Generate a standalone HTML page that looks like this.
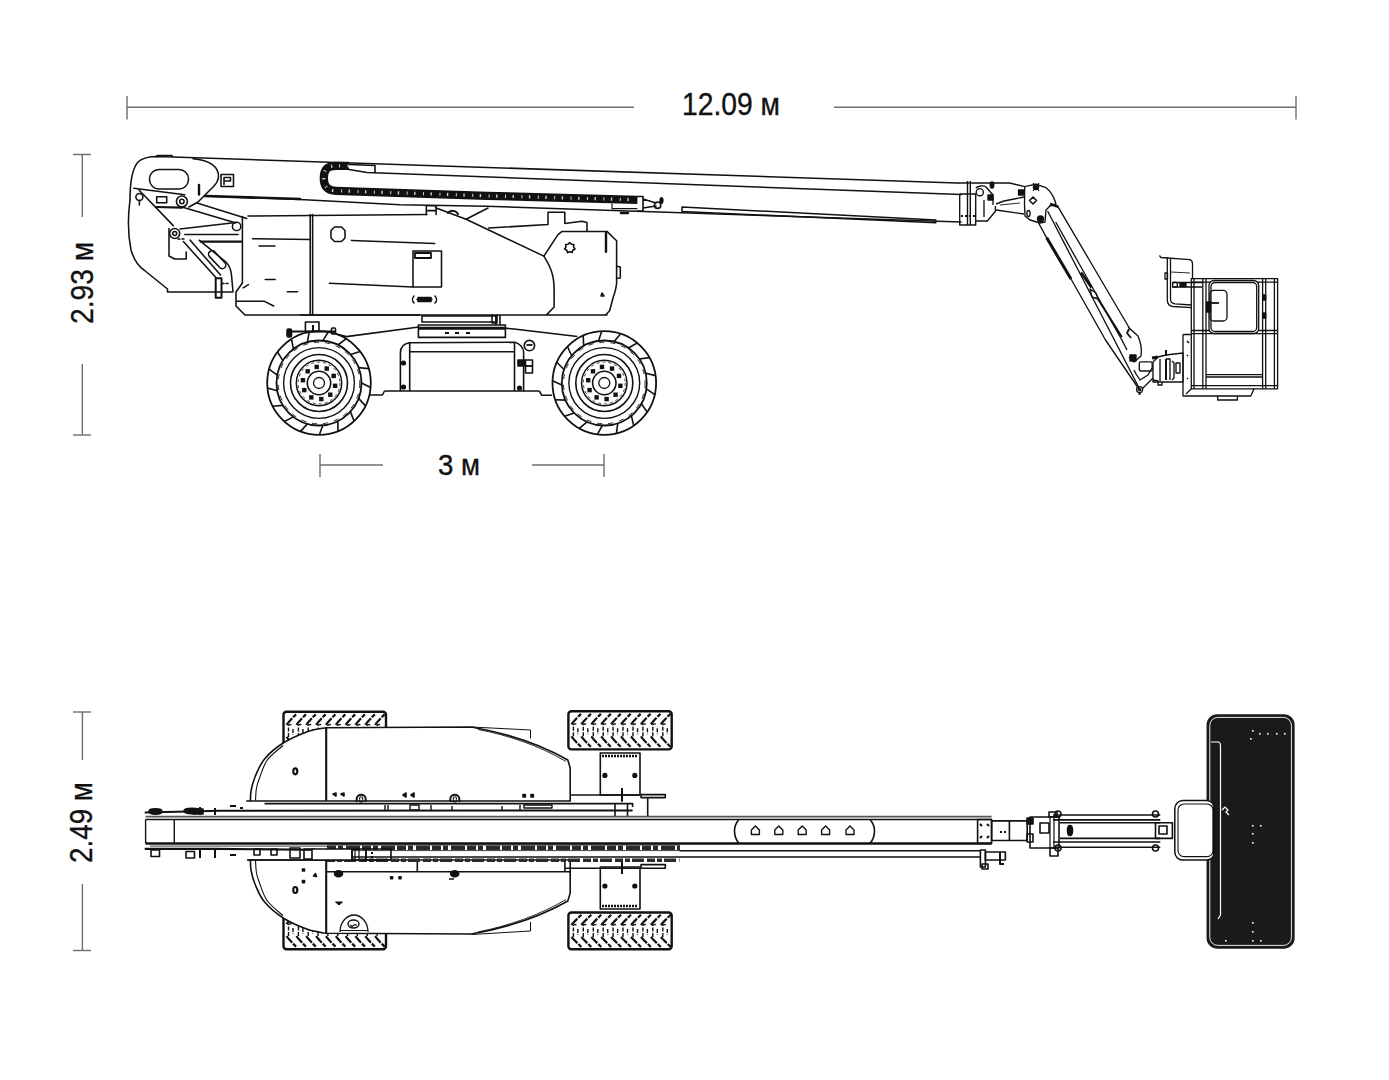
<!DOCTYPE html>
<html><head><meta charset="utf-8"><style>
html,body{margin:0;padding:0;background:#fff;}
svg{display:block;}
</style></head><body>
<svg width="1389" height="1080" viewBox="0 0 1389 1080">
<rect width="1389" height="1080" fill="#fff"/>
<g stroke="#6e6e6e" stroke-width="1.4" fill="none">
<line x1="127" y1="107.2" x2="634" y2="107.2"/><line x1="834" y1="107.2" x2="1296" y2="107.2"/>
<line x1="127" y1="96" x2="127" y2="119.5"/><line x1="1296" y1="96" x2="1296" y2="119.5"/>
<line x1="82.3" y1="154.5" x2="82.3" y2="217"/><line x1="82.3" y1="364" x2="82.3" y2="435"/>
<line x1="73" y1="154.5" x2="91" y2="154.5"/><line x1="73" y1="435" x2="91" y2="435"/>
<line x1="82.4" y1="712" x2="82.4" y2="760"/><line x1="82.4" y1="884" x2="82.4" y2="950.5"/>
<line x1="73" y1="712" x2="91" y2="712"/><line x1="73" y1="950.5" x2="91" y2="950.5"/>
<line x1="320" y1="465" x2="383" y2="465"/><line x1="532" y1="465" x2="604" y2="465"/>
<line x1="320" y1="454" x2="320" y2="477"/><line x1="604" y1="454" x2="604" y2="477"/>
</g>
<text x="682" y="115" font-size="32" font-family="Liberation Sans, sans-serif" fill="#111" stroke="#111" stroke-width="0.35" textLength="98" lengthAdjust="spacingAndGlyphs">12.09 м</text>
<text x="438" y="475" font-size="30" font-family="Liberation Sans, sans-serif" fill="#111" stroke="#111" stroke-width="0.35" textLength="42" lengthAdjust="spacingAndGlyphs">3 м</text>
<text transform="translate(93,324) rotate(-90)" font-size="31" font-family="Liberation Sans, sans-serif" fill="#111" stroke="#111" stroke-width="0.35" textLength="82" lengthAdjust="spacingAndGlyphs">2.93 м</text>
<text transform="translate(92,863) rotate(-90)" font-size="31" font-family="Liberation Sans, sans-serif" fill="#111" stroke="#111" stroke-width="0.35" textLength="81" lengthAdjust="spacingAndGlyphs">2.49 м</text>
<g stroke="#111" fill="none">
<circle cx="319" cy="383" r="51.8" stroke-width="1.8"/>
<circle cx="319" cy="383" r="42.5" stroke-width="1.8"/>
<circle cx="319" cy="383" r="40.8" stroke-width="0.9" stroke-dasharray="5 6"/>
<circle cx="319" cy="383" r="35.4" stroke-width="1.4"/>
<circle cx="319" cy="383" r="28.5" stroke-width="1.6"/>
<circle cx="319" cy="383" r="22.7" stroke-width="1.5"/>
<circle cx="319" cy="383" r="20.9" stroke-width="0.8" stroke-dasharray="3 3"/>
<circle cx="319" cy="383" r="11.7" stroke-width="1.6"/>
<circle cx="319" cy="383" r="5.5" stroke-width="1.3"/>
<line x1="361.5" y1="383.0" x2="370.6" y2="387.5" stroke-width="1.6"/>
<line x1="358.6" y1="398.4" x2="365.5" y2="405.9" stroke-width="1.6"/>
<line x1="350.4" y1="411.6" x2="354.1" y2="421.1" stroke-width="1.6"/>
<line x1="337.9" y1="421.0" x2="338.0" y2="431.2" stroke-width="1.6"/>
<line x1="322.9" y1="425.3" x2="319.3" y2="434.8" stroke-width="1.6"/>
<line x1="307.4" y1="423.9" x2="300.5" y2="431.4" stroke-width="1.6"/>
<line x1="293.4" y1="416.9" x2="284.3" y2="421.5" stroke-width="1.6"/>
<line x1="282.9" y1="405.4" x2="272.7" y2="406.3" stroke-width="1.6"/>
<line x1="277.2" y1="390.8" x2="267.4" y2="388.0" stroke-width="1.6"/>
<line x1="277.2" y1="375.2" x2="269.1" y2="369.1" stroke-width="1.6"/>
<line x1="282.9" y1="360.6" x2="277.5" y2="352.0" stroke-width="1.6"/>
<line x1="293.4" y1="349.1" x2="291.5" y2="339.1" stroke-width="1.6"/>
<line x1="307.4" y1="342.1" x2="309.2" y2="332.1" stroke-width="1.6"/>
<line x1="322.9" y1="340.7" x2="328.3" y2="332.0" stroke-width="1.6"/>
<line x1="337.9" y1="345.0" x2="346.0" y2="338.8" stroke-width="1.6"/>
<line x1="350.4" y1="354.4" x2="360.2" y2="351.6" stroke-width="1.6"/>
<line x1="358.6" y1="367.6" x2="368.7" y2="368.6" stroke-width="1.6"/>
<rect x="332.9" y="383.6" width="4.4" height="4.4" fill="#111" stroke="none"/>
<rect x="328.1" y="392.5" width="4.4" height="4.4" fill="#111" stroke="none"/>
<rect x="319.1" y="396.9" width="4.4" height="4.4" fill="#111" stroke="none"/>
<rect x="309.1" y="395.2" width="4.4" height="4.4" fill="#111" stroke="none"/>
<rect x="302.1" y="387.9" width="4.4" height="4.4" fill="#111" stroke="none"/>
<rect x="300.7" y="378.0" width="4.4" height="4.4" fill="#111" stroke="none"/>
<rect x="305.5" y="369.1" width="4.4" height="4.4" fill="#111" stroke="none"/>
<rect x="314.5" y="364.7" width="4.4" height="4.4" fill="#111" stroke="none"/>
<rect x="324.5" y="366.4" width="4.4" height="4.4" fill="#111" stroke="none"/>
<rect x="331.5" y="373.7" width="4.4" height="4.4" fill="#111" stroke="none"/>
</g>
<g stroke="#111" fill="none">
<circle cx="604.3" cy="383" r="51.8" stroke-width="1.8"/>
<circle cx="604.3" cy="383" r="42.5" stroke-width="1.8"/>
<circle cx="604.3" cy="383" r="40.8" stroke-width="0.9" stroke-dasharray="5 6"/>
<circle cx="604.3" cy="383" r="35.4" stroke-width="1.4"/>
<circle cx="604.3" cy="383" r="28.5" stroke-width="1.6"/>
<circle cx="604.3" cy="383" r="22.7" stroke-width="1.5"/>
<circle cx="604.3" cy="383" r="20.9" stroke-width="0.8" stroke-dasharray="3 3"/>
<circle cx="604.3" cy="383" r="11.7" stroke-width="1.6"/>
<circle cx="604.3" cy="383" r="5.5" stroke-width="1.3"/>
<line x1="646.4" y1="388.9" x2="654.8" y2="394.7" stroke-width="1.6"/>
<line x1="641.4" y1="403.7" x2="647.2" y2="412.1" stroke-width="1.6"/>
<line x1="631.4" y1="415.7" x2="633.7" y2="425.6" stroke-width="1.6"/>
<line x1="617.8" y1="423.3" x2="616.4" y2="433.4" stroke-width="1.6"/>
<line x1="602.3" y1="425.5" x2="597.4" y2="434.3" stroke-width="1.6"/>
<line x1="587.1" y1="421.9" x2="579.3" y2="428.4" stroke-width="1.6"/>
<line x1="574.2" y1="413.0" x2="564.6" y2="416.3" stroke-width="1.6"/>
<line x1="565.4" y1="400.1" x2="555.3" y2="399.7" stroke-width="1.6"/>
<line x1="561.8" y1="384.9" x2="552.5" y2="380.8" stroke-width="1.6"/>
<line x1="564.0" y1="369.5" x2="556.8" y2="362.3" stroke-width="1.6"/>
<line x1="571.6" y1="355.8" x2="567.5" y2="346.5" stroke-width="1.6"/>
<line x1="583.7" y1="345.8" x2="583.2" y2="335.7" stroke-width="1.6"/>
<line x1="598.5" y1="340.9" x2="601.7" y2="331.3" stroke-width="1.6"/>
<line x1="614.1" y1="341.6" x2="620.6" y2="333.8" stroke-width="1.6"/>
<line x1="628.4" y1="348.0" x2="637.2" y2="343.0" stroke-width="1.6"/>
<line x1="639.4" y1="359.0" x2="649.4" y2="357.6" stroke-width="1.6"/>
<line x1="645.7" y1="373.3" x2="655.6" y2="375.6" stroke-width="1.6"/>
<rect x="618.2" y="383.6" width="4.4" height="4.4" fill="#111" stroke="none"/>
<rect x="613.4" y="392.5" width="4.4" height="4.4" fill="#111" stroke="none"/>
<rect x="604.4" y="396.9" width="4.4" height="4.4" fill="#111" stroke="none"/>
<rect x="594.4" y="395.2" width="4.4" height="4.4" fill="#111" stroke="none"/>
<rect x="587.4" y="387.9" width="4.4" height="4.4" fill="#111" stroke="none"/>
<rect x="586.0" y="378.0" width="4.4" height="4.4" fill="#111" stroke="none"/>
<rect x="590.8" y="369.1" width="4.4" height="4.4" fill="#111" stroke="none"/>
<rect x="599.8" y="364.7" width="4.4" height="4.4" fill="#111" stroke="none"/>
<rect x="609.8" y="366.4" width="4.4" height="4.4" fill="#111" stroke="none"/>
<rect x="616.8" y="373.7" width="4.4" height="4.4" fill="#111" stroke="none"/>
</g>
<g stroke="#111" fill="none" stroke-linejoin="round" stroke-width="1.6">
<path d="M287,331.5 L336,331.5" stroke-width="1.8"/>
<rect x="287" y="329" width="4.5" height="8" rx="1.5" fill="#111"/>
<rect x="331.5" y="328" width="4" height="6" rx="1"/>
<rect x="305.4" y="322" width="13.6" height="9.5"/><path d="M313,325 v6" stroke-width="2"/>
<path d="M336,334 L346.4,336.6 L417,327.3 L418.4,327.3"/>
<path d="M418.4,325 L505.4,325 L505.4,337.4 L418.4,337.4 Z"/>
<path d="M418.4,328.2 L505.4,328.2" stroke-width="3"/>
<path d="M445,333 h4 M455,333 h4 M466,333 h4" stroke-width="2"/>
<path d="M505.4,328.2 L514,329 L577.4,336.5"/>
<path d="M300,315 L420,315"/>
<path d="M496,315 L496,325 M500,315 L500,325"/>
<path d="M384.5,391 L400.4,391 L400.4,353 C400.4,347 404,343.5 409.7,342.8 L514.5,342.3 C519,343 523,347 523.6,351.4 L523.6,391 L539.3,391"/>
<path d="M409.7,342.8 L409.7,391 M514.5,342.3 L514.5,391 M409.7,351.8 L514.5,351.8 M400.4,391 L523.6,391"/>
<path d="M369.4,395 L382.4,395 L384.5,391 M539.3,391 L541.8,395.3 L552,395.3"/>
<circle cx="403.5" cy="363" r="1.8" fill="#111"/><circle cx="403.5" cy="387" r="1.8" fill="#111"/><circle cx="519.5" cy="388" r="1.8" fill="#111"/>
<circle cx="529.4" cy="345.6" r="5.2"/><path d="M526.5,345 h6" stroke-width="1.8"/>
<rect x="518" y="360" width="7" height="6" fill="#111"/><rect x="525.5" y="360" width="7" height="6"/><rect x="525.5" y="366" width="7" height="7"/>
</g>
<g stroke="#111" fill="none" stroke-linejoin="round" stroke-linecap="round" stroke-width="1.55">
<path d="M130,200 C130,186 131,170 138,162 C143,157 150,156.5 158,156.5 L957,183"/>
<path d="M156,157 L157,155.3 L172,155.3 L173,157" stroke-width="1.2"/>
<path d="M130,200 C128,215 128,235 131,250 C134,260 138,266 144,270 L167.5,289 L167.5,292 L232,292"/>
<path d="M193,158.7 C210,160 219,167 218.5,177 C218,181 216.5,183.5 214,186 L198,202 L189,207"/>
<rect x="149.5" y="169.5" width="39" height="19.5" rx="9.5"/>
<rect x="221" y="174.5" width="12.5" height="12"/><path d="M224,184.5 V177.5 H230.5 V181 H224"/>
<path d="M199,185 L199,194.5" stroke-width="2.4"/>
<path d="M349,169.5 L367,172.4 L961,194.6"/>
<path d="M205,196 L300,199.5 L400,204.8 L486.2,206.3 L961,222"/>
<path d="M205,196 L300,199" stroke-width="2.6"/>
<path d="M682,207 L935.8,220 L935.8,222.8 L682,211.5 Z"/>
<path d="M133.7,188.2 L184.8,194.7"/>
<path d="M156,207 L182,207.6" stroke-width="2.2"/>
<rect x="156.7" y="196.8" width="10" height="6"/>
<circle cx="181.9" cy="201.5" r="5.5"/><circle cx="181.9" cy="201.5" r="2.2"/>
<circle cx="139.4" cy="197" r="3.5"/><path d="M139.4,200.5 L139.4,205"/>
<path d="M139,190 L173.3,225.6"/>
<circle cx="174.7" cy="233.5" r="5"/><circle cx="174.7" cy="233.5" r="2"/>
<path d="M182,207 L235.2,222.8 M197,203 L246.7,218.4"/>
<circle cx="236.6" cy="226.4" r="4.2"/>
<path d="M180,229 L236,222.5 M184.8,234.4 L238,234.4"/>
<path d="M200.6,241.6 L241,241.6" stroke-width="2.2"/>
<path d="M169,228.6 L169,256 L174.7,259 L186.2,259 L186.2,252"/>
<path d="M183.4,241.6 L215.9,277.6 M190,240 L220.5,275"/>
<rect x="203.5" y="254.6" width="22" height="7" rx="3.5" transform="rotate(47 214 262)"/>
<path d="M199.2,240.2 L226,262 C230,266 231,270 231.5,275 L233,292"/>
<rect x="215.7" y="278.3" width="5.8" height="19.5" stroke-width="2"/>
<path d="M222,283.5 h8" stroke-dasharray="2 2"/>
<path d="M178,239 h8" stroke-dasharray="2 2"/>
<path d="M248,216 L250.4,216 L427,214.6 M242.4,216.5 L242.4,283 L236,292 L236,306 L245,315 L607,315"/>
<path d="M426.3,214.6 L426.3,205.7 L436.1,205.7 L436.1,214.6 M426.3,210.6 h9.8 M435.6,207.7 L466.1,219.2 L543.9,256.1 C547.5,262 550.5,267.5 552,273 C553.5,278 554.1,282 554.1,290 L554.1,307 L546.7,314.6"/>
<path d="M466.1,219.2 L488,208"/><path d="M448,213 C450,210 456,210 458,214" stroke-width="2"/>
<path d="M488.7,228 L548,224.5 L548,212.2 L564.8,212.2 L564.8,223.5 L582,221.2 L587,222.5 L587,231.2"/>
<path d="M543.9,256.1 L557.8,234.8 L562,231.4 L606.9,231.4 L616.6,240.8 L616.6,283.9 C615.8,290 614.5,294 613.3,297 L609.6,310.7 L605.9,314.8"/>
<path d="M616.6,266.3 L620.3,267 L620.3,278 L616.6,278.3"/>
<path d="M606,233 L606,251.8" stroke-width="2.4"/>
<path d="M569.8,242.5 L571.5,244.3 L573.9,244.5 L573.6,246.9 L575.0,249.0 L572.8,250.2 L572.1,252.6 L569.8,251.7 L567.5,252.6 L566.8,250.2 L564.6,249.0 L566.0,246.9 L565.7,244.5 L568.1,244.3 Z" stroke-width="1.6"/>
<path d="M602,293 l2,3 h-3 z"/>
<path d="M310.2,214.5 L310.2,315 M312.6,214.5 L312.6,315"/>
<path d="M252.5,238.7 L310,239.5"/>
<path d="M259,246 h16 M265.2,279.4 h10 M287.3,291.7 h10.3 M236.2,301.2 L264,301.2 L273.7,306 M243.2,287.8 L248.4,284.6" stroke-width="1.5"/>
<path d="M331,230.5 L334.5,227 L341.5,227 L345,230.5 L345,238 L341.5,241.5 L334.5,241.5 L331,238 Z"/>
<path d="M351.4,240.4 L434.6,243.6"/>
<path d="M329.4,283.2 L413,287"/>
<rect x="413" y="251" width="28.5" height="36"/><rect x="415" y="253" width="16" height="5" stroke-width="1.8"/>
<path d="M414,296 C412,298 412,301 414,303 M435,296 C437,298 437,301 435,303 M417,299.5 h15" />
<path d="M418,297.5 h13 v4 h-13 z" fill="#111"/>
<path d="M422,316 L496,316 L496,322 L422,322 Z"/><path d="M492,315 v8 h5 v-8"/>
</g>
<g stroke="#111" fill="none" stroke-linecap="butt">
<path d="M349,165.8 L336,165.8 C327,165.8 323.8,170 323.8,178 C323.8,186 327,190.5 336,190.8 L487,195.8 L637.4,199.8" stroke-width="8.3"/>
<path d="M349,165.8 L336,165.8 C327,165.8 323.8,170 323.8,178 C323.8,186 327,190.5 336,190.8 L487,195.8 L636,199.8" stroke-width="3.2" stroke="#fff" stroke-dasharray="1.4 7.5 1 6.5" stroke-opacity="0.8"/>
</g>
<g stroke="#111" fill="none" stroke-linejoin="round" stroke-linecap="round" stroke-width="1.6">
<path d="M637.4,196.5 L643,196.5 L643,211 L637.4,211 M643,199 L656,203 M643,208 L656,206"/><circle cx="657.6" cy="205.2" r="3.2"/><ellipse cx="661.5" cy="200.5" rx="1.3" ry="2.8" fill="#111"/>
<path d="M612,204 L612,208.6 L637,208.6" stroke-width="1.2"/><path d="M621,213 h7" stroke-width="2.5"/>
<path d="M349,164.5 L375,165.5 L375,172"/>
</g>
<g stroke="#111" fill="none" stroke-linejoin="round" stroke-width="1.35">
<rect x="959.7" y="194" width="16" height="31"/>
<path d="M967.5,181 L967.5,225 M970.3,181 L970.3,225" stroke-width="1.4"/>
<path d="M961,216 h14" stroke-dasharray="2 2" stroke-width="1.8"/>
<path d="M957,183 L1009.6,183 L1024.7,186.6"/>
<circle cx="979.8" cy="192.2" r="3.6"/>
<path d="M975.8,188 C978,186 983,185 986,187 L993,195 L993,205 M975.8,221 L987.4,221 L995.4,211.3 L995.4,206"/>
<path d="M984,200 L984,217"/>
<ellipse cx="992" cy="185" rx="1.8" ry="3" fill="#111"/>
<rect x="988" y="195" width="5" height="5" fill="#111"/>
<path d="M996,204 L1004,201 L1024,197 M996,210 L1024,214"/>
<path d="M1000,205 L1020,203" stroke-width="0.9"/>
<path d="M1024.7,186.6 L1035.8,184.1 L1045.8,187.6 C1050,191 1053,195 1055,201 L1056,204 L1050,206 L1046,210 L1045,222 L1040,223 L1030,220 L1025,216 L1024.5,205 Z"/>
<path d="M1029.5,200.5 L1033,197 L1036.5,200.5 L1033,204 Z" stroke-width="1.6"/>
<rect x="1018.5" y="190" width="5" height="5" fill="#111"/>
<ellipse cx="1028.5" cy="213.5" rx="1.6" ry="3"/>
<circle cx="1040.5" cy="219" r="3" fill="#111"/>
<circle cx="1036" cy="187" r="2.6" fill="#111"/><path d="M1033,183 l6,8 M1039,183 l-6,8" stroke-width="1.2"/>
<path d="M1057.9,206.7 L1089.3,260 L1130.5,330"/>
<path d="M1038,222 L1046.7,237.8 L1071,279 L1105.5,340 L1139.6,390"/>
<path d="M1046.7,237.8 L1071,279" stroke-width="3"/>
<path d="M1047.6,211 L1073,260 L1114.4,340 L1139.6,389"/>
<path d="M1055.7,222 L1077,260 L1121.9,340 L1127,350"/>
<path d="M1081,272.6 L1091.5,287.4" stroke-width="2.6"/>
<path d="M1098,299 L1121.8,337" stroke-width="2"/>
<path d="M1090,289 L1096,293 L1098,299 L1092,297 Z"/>
<path d="M1050,204 L1058.3,206.7" stroke-width="2.5"/>
<path d="M1128,327 L1138,336 C1141,343 1142,350 1141,356 L1134,362 L1129,357"/>
<path d="M1129,329 L1127,333 L1131,338" stroke-width="1.8"/>
<rect x="1130" y="355" width="6" height="6" fill="#111"/>
<circle cx="1139.6" cy="389.6" r="3"/><circle cx="1139.6" cy="389.6" r="1" fill="#111"/>
<path d="M1139.6,392 L1139.6,395" stroke-width="2"/>
<path d="M1142,389 L1153,378 M1134,370 L1136,374 L1140,380 L1148,375 L1152,368"/>
<rect x="1139.3" y="361.9" width="12.9" height="9.1" rx="1.5"/>
<path d="M1153,362 L1158,357 L1166,355 L1183,353 L1183,382 L1153,382 Z"/>
<path d="M1160,359 L1160,381 M1166,359 L1170,359 L1170,380 M1172,361 L1174,363 L1174,378 L1172,380" />
<path d="M1166,359 L1166,380" stroke-width="2"/>
<path d="M1176,363 L1180,363 L1180,373 L1176,373 Z"/>
<path d="M1152,358 L1158,357" stroke-width="3"/>
<path d="M1166,350 L1166,356" stroke-width="2"/>
<path d="M1153,380 L1158,381 L1158,385 L1162,385 L1162,382" />
</g>
<g stroke="#111" fill="none" stroke-linejoin="round" stroke-width="1.3">
<rect x="1191.3" y="278.6" width="86.3" height="110.2"/>
<path d="M1191.3,282.2 L1277.6,282.2 M1191.3,330.5 L1277.6,330.5 M1191.3,333.7 L1277.6,333.7 M1191.3,385.7 L1277.6,385.7"/>
<path d="M1194,278.6 V388.8 M1202.8,278.6 V388.8 M1206,278.6 V388.8 M1262.6,278.6 V388.8 M1265.7,278.6 V388.8 M1274.4,278.6 V388.8"/>
<rect x="1209" y="280.5" width="49.7" height="53" rx="5" fill="#fff"/>
<rect x="1211" y="282.5" width="45.7" height="49" rx="4"/>
<rect x="1209.8" y="290.4" width="17.2" height="30.6" rx="4"/>
<path d="M1211,303 h8" stroke-width="1.8"/>
<rect x="1206.5" y="302" width="4" height="10" fill="#111"/>
<path d="M1206,374.6 H1262.6 M1206,377 H1262.6"/>
<rect x="1262.6" y="295" width="3.1" height="5" fill="#111"/><rect x="1262.6" y="313" width="3.1" height="5" fill="#111"/>
<path d="M1183,334.5 L1191.3,334.5 M1183,334.5 L1183,396 L1250.8,396 L1254,388.8 M1191.3,388.8 L1186,394"/>
<path d="M1217.7,396 L1217.7,400 L1237.4,400 L1237.4,396"/>
<path d="M1187,341 l2,2 M1187,355 l1,1 M1187,378 l1,1" stroke-width="1.6"/>
<path d="M1159.4,255.5 L1161,257.5 L1190,259.7 C1192,260.5 1192.5,262 1192.5,264 L1192.5,278"/>
<path d="M1167.3,257 L1167.3,300 C1167.3,304 1169,306 1173,306.5 L1191.3,307.7"/>
<path d="M1170.5,258 L1170.5,299 C1170.5,302 1172,303.5 1175,303.8 L1191.3,305"/>
<path d="M1172,282.5 L1202,282.5 M1172,287 L1202,287"/>
<circle cx="1175" cy="284.7" r="2.5"/><rect x="1180" y="283" width="6" height="3.5" fill="#111"/>
<rect x="1165" y="273" width="2.5" height="6"/>
<path d="M1171,272 L1190,273" stroke-width="0.9"/>
</g>
<g stroke="#111" fill="none" stroke-linejoin="round" stroke-width="1.6">
<rect x="283.5" y="711.7" width="102.5" height="38.299999999999955" rx="3" fill="#fff" stroke="#111" stroke-width="2.4"/>
<path d="M286.5,724.9 Q289.5,720.7 296.5,713.9 M286.5,736.9 Q289.5,741.0 296.5,747.8 M296.4,724.9 Q299.4,720.7 306.4,713.9 M296.4,736.9 Q299.4,741.0 306.4,747.8 M306.2,724.9 Q309.2,720.7 316.2,713.9 M306.2,736.9 Q309.2,741.0 316.2,747.8 M316.1,724.9 Q319.1,720.7 326.1,713.9 M316.1,736.9 Q319.1,741.0 326.1,747.8 M325.9,724.9 Q328.9,720.7 335.9,713.9 M325.9,736.9 Q328.9,741.0 335.9,747.8 M335.8,724.9 Q338.8,720.7 345.8,713.9 M335.8,736.9 Q338.8,741.0 345.8,747.8 M345.6,724.9 Q348.6,720.7 355.6,713.9 M345.6,736.9 Q348.6,741.0 355.6,747.8 M355.4,724.9 Q358.4,720.7 365.4,713.9 M355.4,736.9 Q358.4,741.0 365.4,747.8 M365.3,724.9 Q368.3,720.7 375.3,713.9 M365.3,736.9 Q368.3,741.0 375.3,747.8 M375.1,724.9 Q378.1,720.7 385.1,713.9 M375.1,736.9 Q378.1,741.0 385.1,747.8" stroke="#111" stroke-width="2.2" fill="none" stroke-dasharray="9 1.3 4 1"/>
<path d="M288.5,736.9 L288.5,724.9 L292.5,724.4 M293.0,728.9 L293.0,734.9 M298.4,736.9 L298.4,724.9 L302.4,724.4 M302.9,728.9 L302.9,734.9 M308.2,736.9 L308.2,724.9 L312.2,724.4 M312.7,728.9 L312.7,734.9 M318.1,736.9 L318.1,724.9 L322.1,724.4 M322.6,728.9 L322.6,734.9 M327.9,736.9 L327.9,724.9 L331.9,724.4 M332.4,728.9 L332.4,734.9 M337.8,736.9 L337.8,724.9 L341.8,724.4 M342.2,728.9 L342.2,734.9 M347.6,736.9 L347.6,724.9 L351.6,724.4 M352.1,728.9 L352.1,734.9 M357.4,736.9 L357.4,724.9 L361.4,724.4 M361.9,728.9 L361.9,734.9 M367.3,736.9 L367.3,724.9 L371.3,724.4 M371.8,728.9 L371.8,734.9 M377.1,736.9 L377.1,724.9 L381.1,724.4 M381.6,728.9 L381.6,734.9" stroke="#111" stroke-width="1.4" fill="none" stroke-dasharray="4 1.5"/>
<rect x="283.5" y="911" width="102.5" height="38.200000000000045" rx="3" fill="#fff" stroke="#111" stroke-width="2.4"/>
<path d="M286.5,924.1 Q289.5,920.0 296.5,913.2 M286.5,936.1 Q289.5,940.2 296.5,947.0 M296.4,924.1 Q299.4,920.0 306.4,913.2 M296.4,936.1 Q299.4,940.2 306.4,947.0 M306.2,924.1 Q309.2,920.0 316.2,913.2 M306.2,936.1 Q309.2,940.2 316.2,947.0 M316.1,924.1 Q319.1,920.0 326.1,913.2 M316.1,936.1 Q319.1,940.2 326.1,947.0 M325.9,924.1 Q328.9,920.0 335.9,913.2 M325.9,936.1 Q328.9,940.2 335.9,947.0 M335.8,924.1 Q338.8,920.0 345.8,913.2 M335.8,936.1 Q338.8,940.2 345.8,947.0 M345.6,924.1 Q348.6,920.0 355.6,913.2 M345.6,936.1 Q348.6,940.2 355.6,947.0 M355.4,924.1 Q358.4,920.0 365.4,913.2 M355.4,936.1 Q358.4,940.2 365.4,947.0 M365.3,924.1 Q368.3,920.0 375.3,913.2 M365.3,936.1 Q368.3,940.2 375.3,947.0 M375.1,924.1 Q378.1,920.0 385.1,913.2 M375.1,936.1 Q378.1,940.2 385.1,947.0" stroke="#111" stroke-width="2.2" fill="none" stroke-dasharray="9 1.3 4 1"/>
<path d="M288.5,936.1 L288.5,924.1 L292.5,923.6 M293.0,928.1 L293.0,934.1 M298.4,936.1 L298.4,924.1 L302.4,923.6 M302.9,928.1 L302.9,934.1 M308.2,936.1 L308.2,924.1 L312.2,923.6 M312.7,928.1 L312.7,934.1 M318.1,936.1 L318.1,924.1 L322.1,923.6 M322.6,928.1 L322.6,934.1 M327.9,936.1 L327.9,924.1 L331.9,923.6 M332.4,928.1 L332.4,934.1 M337.8,936.1 L337.8,924.1 L341.8,923.6 M342.2,928.1 L342.2,934.1 M347.6,936.1 L347.6,924.1 L351.6,923.6 M352.1,928.1 L352.1,934.1 M357.4,936.1 L357.4,924.1 L361.4,923.6 M361.9,928.1 L361.9,934.1 M367.3,936.1 L367.3,924.1 L371.3,923.6 M371.8,928.1 L371.8,934.1 M377.1,936.1 L377.1,924.1 L381.1,923.6 M381.6,928.1 L381.6,934.1" stroke="#111" stroke-width="1.4" fill="none" stroke-dasharray="4 1.5"/>
<rect x="568.4" y="711.3" width="103.30000000000007" height="38.10000000000002" rx="3" fill="#fff" stroke="#111" stroke-width="2.4"/>
<path d="M571.4,724.3 Q574.4,720.3 581.4,713.5 M571.4,736.3 Q574.4,740.4 581.4,747.2 M581.3,724.3 Q584.3,720.3 591.3,713.5 M581.3,736.3 Q584.3,740.4 591.3,747.2 M591.3,724.3 Q594.3,720.3 601.3,713.5 M591.3,736.3 Q594.3,740.4 601.3,747.2 M601.2,724.3 Q604.2,720.3 611.2,713.5 M601.2,736.3 Q604.2,740.4 611.2,747.2 M611.1,724.3 Q614.1,720.3 621.1,713.5 M611.1,736.3 Q614.1,740.4 621.1,747.2 M621.0,724.3 Q624.0,720.3 631.0,713.5 M621.0,736.3 Q624.0,740.4 631.0,747.2 M631.0,724.3 Q634.0,720.3 641.0,713.5 M631.0,736.3 Q634.0,740.4 641.0,747.2 M640.9,724.3 Q643.9,720.3 650.9,713.5 M640.9,736.3 Q643.9,740.4 650.9,747.2 M650.8,724.3 Q653.8,720.3 660.8,713.5 M650.8,736.3 Q653.8,740.4 660.8,747.2 M660.8,724.3 Q663.8,720.3 670.8,713.5 M660.8,736.3 Q663.8,740.4 670.8,747.2" stroke="#111" stroke-width="2.2" fill="none" stroke-dasharray="9 1.3 4 1"/>
<path d="M573.4,736.3 L573.4,724.3 L577.4,723.8 M577.9,728.3 L577.9,734.3 M583.3,736.3 L583.3,724.3 L587.3,723.8 M587.8,728.3 L587.8,734.3 M593.3,736.3 L593.3,724.3 L597.3,723.8 M597.8,728.3 L597.8,734.3 M603.2,736.3 L603.2,724.3 L607.2,723.8 M607.7,728.3 L607.7,734.3 M613.1,736.3 L613.1,724.3 L617.1,723.8 M617.6,728.3 L617.6,734.3 M623.0,736.3 L623.0,724.3 L627.0,723.8 M627.5,728.3 L627.5,734.3 M633.0,736.3 L633.0,724.3 L637.0,723.8 M637.5,728.3 L637.5,734.3 M642.9,736.3 L642.9,724.3 L646.9,723.8 M647.4,728.3 L647.4,734.3 M652.8,736.3 L652.8,724.3 L656.8,723.8 M657.3,728.3 L657.3,734.3 M662.8,736.3 L662.8,724.3 L666.8,723.8 M667.3,728.3 L667.3,734.3" stroke="#111" stroke-width="1.4" fill="none" stroke-dasharray="4 1.5"/>
<rect x="568.4" y="912.5" width="103.30000000000007" height="36.700000000000045" rx="3" fill="#fff" stroke="#111" stroke-width="2.4"/>
<path d="M571.4,924.9 Q574.4,921.5 581.4,914.7 M571.4,936.9 Q574.4,940.2 581.4,947.0 M581.3,924.9 Q584.3,921.5 591.3,914.7 M581.3,936.9 Q584.3,940.2 591.3,947.0 M591.3,924.9 Q594.3,921.5 601.3,914.7 M591.3,936.9 Q594.3,940.2 601.3,947.0 M601.2,924.9 Q604.2,921.5 611.2,914.7 M601.2,936.9 Q604.2,940.2 611.2,947.0 M611.1,924.9 Q614.1,921.5 621.1,914.7 M611.1,936.9 Q614.1,940.2 621.1,947.0 M621.0,924.9 Q624.0,921.5 631.0,914.7 M621.0,936.9 Q624.0,940.2 631.0,947.0 M631.0,924.9 Q634.0,921.5 641.0,914.7 M631.0,936.9 Q634.0,940.2 641.0,947.0 M640.9,924.9 Q643.9,921.5 650.9,914.7 M640.9,936.9 Q643.9,940.2 650.9,947.0 M650.8,924.9 Q653.8,921.5 660.8,914.7 M650.8,936.9 Q653.8,940.2 660.8,947.0 M660.8,924.9 Q663.8,921.5 670.8,914.7 M660.8,936.9 Q663.8,940.2 670.8,947.0" stroke="#111" stroke-width="2.2" fill="none" stroke-dasharray="9 1.3 4 1"/>
<path d="M573.4,936.9 L573.4,924.9 L577.4,924.4 M577.9,928.9 L577.9,934.9 M583.3,936.9 L583.3,924.9 L587.3,924.4 M587.8,928.9 L587.8,934.9 M593.3,936.9 L593.3,924.9 L597.3,924.4 M597.8,928.9 L597.8,934.9 M603.2,936.9 L603.2,924.9 L607.2,924.4 M607.7,928.9 L607.7,934.9 M613.1,936.9 L613.1,924.9 L617.1,924.4 M617.6,928.9 L617.6,934.9 M623.0,936.9 L623.0,924.9 L627.0,924.4 M627.5,928.9 L627.5,934.9 M633.0,936.9 L633.0,924.9 L637.0,924.4 M637.5,928.9 L637.5,934.9 M642.9,936.9 L642.9,924.9 L646.9,924.4 M647.4,928.9 L647.4,934.9 M652.8,936.9 L652.8,924.9 L656.8,924.4 M657.3,928.9 L657.3,934.9 M662.8,936.9 L662.8,924.9 L666.8,924.4 M667.3,928.9 L667.3,934.9" stroke="#111" stroke-width="1.4" fill="none" stroke-dasharray="4 1.5"/>
<rect x="600.3" y="753" width="39.7" height="42" fill="#fff"/><path d="M602,756 h36" stroke-width="2.4" stroke-dasharray="2 1"/>
<circle cx="604.9" cy="775.4" r="1.8" fill="#111"/><circle cx="634.8" cy="775.4" r="1.8" fill="#111"/><path d="M622,788 V801.7" stroke-width="2"/>
<rect x="600.3" y="867" width="39.7" height="42" fill="#fff"/><path d="M602,906 h36" stroke-width="2.4" stroke-dasharray="2 1"/>
<circle cx="604.9" cy="886" r="1.8" fill="#111"/><circle cx="634.8" cy="886" r="1.8" fill="#111"/><path d="M622,859 V874" stroke-width="2"/>
<path d="M246.8,801 L250.4,801.0 C250.5,799.2 250.3,794.2 251.2,790.0 C252.0,785.8 253.3,780.9 255.5,775.7 C257.7,770.5 260.1,764.3 264.6,758.9 C269.2,753.5 275.7,747.8 282.8,743.3 C289.9,738.8 300.2,734.3 307.4,731.7 C314.6,729.1 323.1,728.4 326.2,727.7 L471.5,727 C505,733 540,744 567.8,760 L570.2,768 L570.2,795 L570.2,801 Z" fill="#fff"/>
<path d="M255.5,800.3 C255.7,798.2 255.8,791.7 256.5,788.0 C257.1,784.3 257.6,782.9 259.4,778.3 C261.2,773.7 263.3,765.7 267.2,760.2 C271.1,754.7 280.4,748.0 283.0,745.5" stroke-width="1.1"/>
<path d="M326.2,727.7 V801" stroke-width="2.1"/>
<path d="M471.5,727 L530.5,730 L530.5,738.5" stroke-width="1"/><path d="M478,729.5 C508,735 540,746 566,761.5" stroke-width="0.9"/>
<path d="M264.5,803.6 L632.6,803.6 L632.6,807 M570,795 L639.6,795 M641,794.6 h24.3 v3 h-24.3 z M647.7,797.6 V816.8"/>
<path d="M615,804 V816.8 M627.5,804 V816.8"/>
<path d="M247.6,860 L250.4,860.0 C250.5,861.8 250.3,866.8 251.2,871.0 C252.0,875.2 253.3,880.1 255.5,885.3 C257.7,890.5 260.1,896.7 264.6,902.1 C269.2,907.5 275.7,913.2 282.8,917.7 C289.9,922.2 300.2,926.7 307.4,929.3 C314.6,931.9 323.1,932.6 326.2,933.3 L471.5,934 C505,928 540,917 567.8,901 L570.2,893 L570.2,866 L570.2,860 Z" fill="#fff"/>
<path d="M255.5,860.7 C255.7,862.8 255.8,869.3 256.5,873.0 C257.1,876.7 257.6,878.1 259.4,882.7 C261.2,887.3 263.3,895.3 267.2,900.8 C271.1,906.3 280.4,913.0 283.0,915.5" stroke-width="1.1"/>
<path d="M326.2,860 V933.5" stroke-width="2.1"/>
<path d="M471.5,934.5 L530.5,931 L530.5,922" stroke-width="1"/><path d="M478,932 C508,926 540,915 566,899.5" stroke-width="0.9"/>
<path d="M327,871.7 L570,871.7 M417.3,860 V871.7 M564.9,860 V871.7 M565,868.2 L639.6,868.2 M641,864.6 h24.3 v3.6 h-24.3 z"/>
<ellipse cx="295.3" cy="771.3" rx="2" ry="3" stroke-width="2.2"/><ellipse cx="295.3" cy="890" rx="2" ry="3" stroke-width="2.2"/>
<path d="M403,795 l3,-2 v4 z M411,795 l3,-2 v4 z" fill="#111"/>
<ellipse cx="338.5" cy="873.8" rx="4" ry="3" fill="#111"/><path d="M335,873.8 h8" stroke-width="1"/>
<rect x="302.5" y="869" width="2" height="2" fill="#111"/><rect x="302.5" y="880.6" width="2" height="2" fill="#111"/><path d="M313.5,876 l2,-2.5 l1,3 z" fill="#111"/>
<rect x="390.6" y="876.8" width="2" height="2" fill="#111"/><rect x="399" y="876.8" width="2" height="2" fill="#111"/>
<path d="M335.5,902 L342.5,902 L339,905 Z" fill="#111" stroke-width="1"/>
<path d="M340,932 C340,922 347,915 354,915 C361,915 368,922 368,932" stroke-width="1.3"/><ellipse cx="353.5" cy="924" rx="5.5" ry="4" stroke-width="1.4"/><path d="M350,925 l2,1.5 l3,-2 l2,1" stroke-width="1.2"/><path d="M340,930.5 H368" stroke-width="1"/>
<path d="M356.7,802 L356.7,799 C356.7,796 359.2,794.8 361.2,794.8 C363.2,794.8 365.7,796 365.7,799 L365.7,802" stroke-width="2"/>
<path d="M359.7,797 h3 v5 h-3 z" stroke-width="1"/>
<path d="M450.3,802 L450.3,799 C450.3,796 452.8,794.8 454.8,794.8 C456.8,794.8 459.3,796 459.3,799 L459.3,802" stroke-width="2"/>
<path d="M453.3,797 h3 v5 h-3 z" stroke-width="1"/>
<path d="M385,805 v5 M388,805 v5 M410,805 h9 v5 h-9 z M431,805 v5 M452,806 v4 M502,806 v4 M520,805 v5 M524,805 h28 v3 h-28 z" stroke-width="1.4"/>
<path d="M333,794 l3,-1 v3 z M341,794 l3,-1 v3 z" fill="#111"/><rect x="523" y="794.5" width="2.4" height="2.4" fill="#111"/><rect x="531" y="794.5" width="2.4" height="2.4" fill="#111"/>
<path d="M339,851 C341,848 345,848 347,851" stroke-width="1"/>
<ellipse cx="338" cy="853" rx="4" ry="3" fill="#111"/><ellipse cx="454.7" cy="873.8" rx="4" ry="3" fill="#111"/>
<path d="M449,879 h5" stroke-width="1.5"/>
<path d="M144.7,812.4 L220,810.8 L632.6,810.5" stroke-width="2"/>
<path d="M145.6,816.6 L991.6,816.6" stroke="#555" stroke-width="1.6"/>
<path d="M145.6,819.5 L991.6,819.5" stroke-width="1.5"/>
<path d="M145.6,843.5 L991.6,843.5" stroke-width="2.4"/>
<path d="M145.6,819.5 V843.5 M174.3,819.5 V843.5" stroke-width="1.4"/>
<path d="M144.7,848.8 L215,848.8 L327,850" stroke-width="2.2"/>
<path d="M150,846.2 L327,846.2" stroke="#666" stroke-width="1.2"/>
<path d="M679.5,850.8 L980.4,850.8 M327,857.1 L980.4,857.1" stroke-width="1.5"/>
<path d="M327,845 L679.5,845 L679.5,850.6 L327,850.6" stroke-width="0.8"/>
<path d="M327,847.7 L679.5,847.7" stroke-width="4.4" stroke="#2a2a2a" stroke-dasharray="9 2 5 3 14 2"/>
<path d="M247.6,860 L327,860" stroke-width="1.6"/><path d="M327,860.3 L679.5,860.3" stroke-width="3.6" stroke="#2a2a2a" stroke-dasharray="8 2 5 2 12 3"/>
<ellipse cx="155.5" cy="811.5" rx="6.5" ry="2.6" fill="#111"/><ellipse cx="192" cy="811" rx="8" ry="2.6" fill="#111"/><rect x="193" y="809" width="10" height="5" fill="#111"/>
<rect x="151" y="850" width="8.5" height="6.5"/><rect x="186" y="851.5" width="8.5" height="6.5"/>
<path d="M200,807 V815 M215,808 V815 M200,848 V858 M215,849 V858" stroke-width="2"/>
<path d="M230,806 h6 M240,808 h3 M230,855 h6" stroke-width="2"/>
<rect x="254" y="849" width="6" height="6"/><rect x="271" y="849" width="6" height="6"/>
<rect x="290" y="848" width="10" height="10"/><rect x="304" y="849" width="10" height="10"/>
<rect x="312" y="849" width="40" height="11" fill="#fff"/><rect x="352" y="849" width="14" height="11"/>
<path d="M355,849 V860 M359,849 V860" stroke-width="1.2"/>
<rect x="366" y="849" width="25" height="11"/><path d="M371,853 h2 M371,857 h2" stroke-width="2"/>
<path d="M739,819.5 C733,826 733,836 739,843.5 M870,819.5 C876,826 876,836 870,843.5"/>
<path d="M751.4,834.5 L751.4,830 L755.4,826 L759.4,830 L759.4,834.5 Z" stroke-width="1.4"/>
<path d="M774.8,834.5 L774.8,830 L778.8,826 L782.8,830 L782.8,834.5 Z" stroke-width="1.4"/>
<path d="M798.2,834.5 L798.2,830 L802.2,826 L806.2,830 L806.2,834.5 Z" stroke-width="1.4"/>
<path d="M821.6,834.5 L821.6,830 L825.6,826 L829.6,830 L829.6,834.5 Z" stroke-width="1.4"/>
<path d="M846.0,834.5 L846.0,830 L850.0,826 L854.0,830 L854.0,834.5 Z" stroke-width="1.4"/>
<path d="M1005,830 h0" />
<rect x="977.6" y="819.5" width="14" height="24"/>
<path d="M980,824 l2,2 M987,824 l2,2 M980,838 l2,-2 M987,838 l2,-2" stroke-width="2"/>
<rect x="980.4" y="850" width="5" height="17"/><rect x="985.4" y="852" width="20" height="8"/><path d="M1000,852 V864 h4" stroke-width="2"/>
<rect x="982" y="864" width="6" height="5"/>
<rect x="991.6" y="820.9" width="35.6" height="19.6"/><path d="M1009.4,820.9 V840.5"/>
<path d="M1000,832 h2 M1004,832 h2" stroke-width="2"/>
<rect x="1027" y="818" width="6" height="6" fill="#111"/><rect x="1027" y="834" width="6" height="8"/>
<rect x="1030" y="817" width="29" height="31" /><rect x="1040" y="823" width="9" height="10"/>
<path d="M1050,817 V848 M1054,817 V848" stroke-width="1.2"/>
<rect x="1049" y="812" width="8" height="5"/><rect x="1050" y="848" width="8" height="8"/>
<path d="M1053,815 L1160.3,815 M1053,819.9 L1160.3,819.9 M1053,842 L1160.3,842 M1053,847.3 L1160.3,847.3"/>
<path d="M1060,822.7 L1160,822.7 M1060,838.4 L1160,838.4"/>
<ellipse cx="1070" cy="830.5" rx="2.5" ry="5" fill="#111"/>
<circle cx="1058" cy="814" r="3"/><circle cx="1155.5" cy="814" r="3"/><circle cx="1058" cy="848" r="3"/><circle cx="1155.5" cy="848" r="3"/>
<rect x="1155.5" y="822.7" width="16.9" height="15.7"/><rect x="1159" y="826" width="8" height="8"/>
</g>
<rect x="1207.3" y="714.9" width="86.6" height="233" rx="10" fill="#1a1a1a" stroke="#1a1a1a" stroke-width="1.5"/>
<rect x="1209.8" y="717.4" width="81.6" height="228" rx="8" fill="none" stroke="#fff" stroke-width="0.9"/>
<path d="M1211,742 L1218,742 C1220,742 1220.5,744 1220.5,746 L1220.5,915 L1218,919" stroke="#fff" stroke-width="1.2" fill="none"/>
<rect x="1174.8" y="800.6" width="39.7" height="59.4" rx="8" fill="#fff" stroke="#111" stroke-width="1.5"/>
<rect x="1178" y="804" width="35" height="52.6" rx="6" fill="none" stroke="#111" stroke-width="1.1"/>
<path d="M1213.5,805 L1213.5,856" stroke="#111" stroke-width="1.5"/>
<path d="M1222,810 l3,-3 l3,3 l-2,2 l3,3" stroke="#fff" stroke-width="1.2" fill="none"/>
<rect x="1252" y="730" width="1.6" height="1.6" fill="#fff"/>
<rect x="1259" y="733" width="1.6" height="1.6" fill="#fff"/>
<rect x="1267" y="733" width="1.6" height="1.6" fill="#fff"/>
<rect x="1276" y="733" width="1.6" height="1.6" fill="#fff"/>
<rect x="1284" y="733" width="1.6" height="1.6" fill="#fff"/>
<rect x="1250" y="738" width="1.6" height="1.6" fill="#fff"/>
<rect x="1252" y="825" width="1.6" height="1.6" fill="#fff"/>
<rect x="1260" y="825" width="1.6" height="1.6" fill="#fff"/>
<rect x="1252" y="833" width="1.6" height="1.6" fill="#fff"/>
<rect x="1252" y="842" width="1.6" height="1.6" fill="#fff"/>
<rect x="1252" y="922" width="1.6" height="1.6" fill="#fff"/>
<rect x="1252" y="931" width="1.6" height="1.6" fill="#fff"/>
<rect x="1252" y="940" width="1.6" height="1.6" fill="#fff"/>
<rect x="1260" y="940" width="1.6" height="1.6" fill="#fff"/>
<rect x="1225" y="940" width="1.6" height="1.6" fill="#fff"/>
</svg></body></html>
